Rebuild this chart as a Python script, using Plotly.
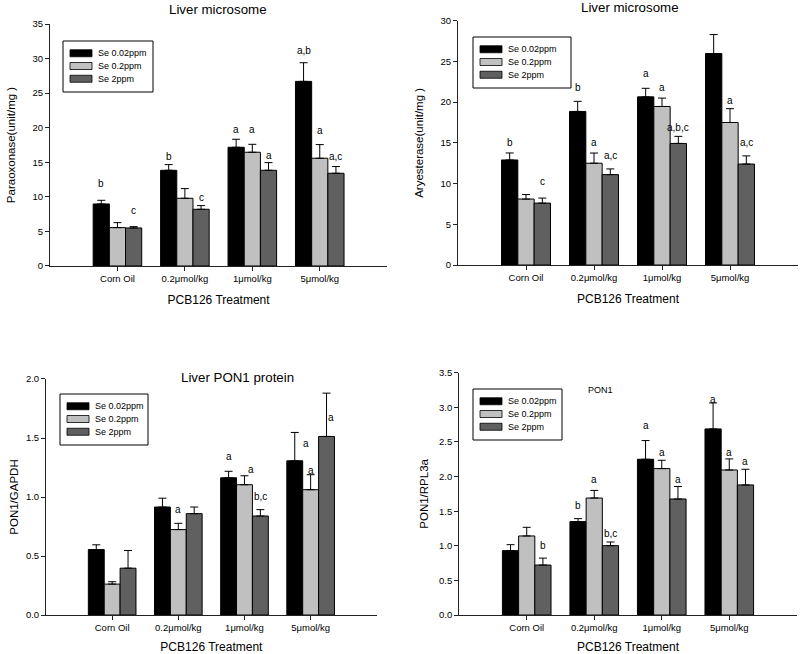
import plotly.graph_objects as go

categories = ["Corn Oil", "0.2μmol/kg", "1μmol/kg", "5μmol/kg"]
series_names = ["Se 0.02ppm", "Se 0.2ppm", "Se 2ppm"]

# Panel 1: Paraoxonase (unit/mg)
pon_002 = [8.97, 13.84, 17.17, 26.7]
pon_02 = [5.55, 9.79, 16.45, 15.58]
pon_2 = [5.5, 8.2, 13.84, 13.41]
pon_002_err = [0.53, 0.82, 1.16, 2.7]
pon_02_err = [0.72, 1.40, 1.15, 1.98]
pon_2_err = [0.19, 0.53, 1.11, 0.97]

# Panel 2: Aryesterase (unit/mg)
ary_002 = [12.9, 18.86, 20.65, 25.97]
ary_02 = [8.1, 12.5, 19.47, 17.5]
ary_2 = [7.6, 11.1, 14.93, 12.4]
ary_002_err = [0.86, 1.24, 1.05, 2.33]
ary_02_err = [0.55, 1.25, 1.03, 1.7]
ary_2_err = [0.62, 0.7, 0.87, 1.0]

# Panel 3: PON1/GAPDH
gap_002 = [0.555, 0.915, 1.163, 1.307]
gap_02 = [0.262, 0.724, 1.104, 1.062]
gap_2 = [0.397, 0.859, 0.839, 1.513]
gap_002_err = [0.04, 0.075, 0.055, 0.24]
gap_02_err = [0.02, 0.053, 0.076, 0.127]
gap_2_err = [0.15, 0.056, 0.054, 0.367]

# Panel 4: PON1/RPL3a
rpl_002 = [0.93, 1.349, 2.25, 2.688]
rpl_02 = [1.142, 1.69, 2.115, 2.095]
rpl_2 = [0.722, 1.002, 1.676, 1.879]
rpl_002_err = [0.086, 0.043, 0.27, 0.375]
rpl_02_err = [0.125, 0.11, 0.12, 0.16]
rpl_2_err = [0.10, 0.053, 0.18, 0.226]

# Significance letters: (category index, series slot, y value, text)
pon_letters = [(0, 0, 11.9, "b"), (0, 2, 8.0, "c"), (1, 0, 15.8, "b"), (1, 2, 9.9, "c"),
               (2, 0, 19.7, "a"), (2, 1, 19.7, "a"), (2, 2, 16.0, "a"),
               (3, 0, 31.2, "a,b"), (3, 1, 19.6, "a"), (3, 2, 15.8, "a,c")]
ary_letters = [(0, 0, 15.1, "b"), (0, 2, 10.2, "c"), (1, 0, 21.8, "b"), (1, 1, 15.1, "a"),
               (1, 2, 13.5, "a,c"), (2, 0, 23.5, "a"), (2, 1, 21.8, "a"), (2, 2, 16.85, "a,b,c"),
               (3, 0, 30.1, "a,b"), (3, 1, 20.2, "a"), (3, 2, 15.1, "a,c")]
gap_letters = [(1, 1, 0.893, "a"), (2, 0, 1.344, "a"), (2, 1.4, 1.231, "a"), (2, 2, 1.008, "b,c"),
               (3, 0.7, 1.456, "a"), (3, 1, 1.228, "a"), (3, 2.3, 1.676, "a")]
rpl_letters = [(0, 2, 1.0, "b"), (1, 0, 1.575, "b"), (1, 1, 1.96, "a"), (1, 2, 1.18, "b,c"),
               (2, 0, 2.736, "a"), (2, 1, 2.35, "a"), (2, 2, 1.96, "a"),
               (3, 0, 3.12, "a"), (3, 1, 2.35, "a"), (3, 2, 2.216, "a")]

colors = ["#000000", "#c0c0c0", "#606060"]
FONT = "Arial, Liberation Sans, sans-serif"

panels = [
    dict(vals=[pon_002, pon_02, pon_2], errs=[pon_002_err, pon_02_err, pon_2_err],
         letters=pon_letters, ytitle="Paraoxonase(unit/mg )", yrange=[0, 35], dtick=5, fmt="d",
         xdom=[0.0625, 0.484], ydom=[0.5933, 0.9633], standoff=14,
         title="Liver microsome", tx=218, ty=9, tsize=13.3,
         leg=(63, 41, 153, 92)),
    dict(vals=[ary_002, ary_02, ary_2], errs=[ary_002_err, ary_02_err, ary_2_err],
         letters=ary_letters, ytitle="Aryesterase(unit/mg )", yrange=[0, 30], dtick=5, fmt="d",
         xdom=[0.5725, 0.9975], ydom=[0.5948, 0.9683], standoff=14,
         title="Liver microsome", tx=630, ty=8, tsize=13.3,
         leg=(473, 37, 571, 88)),
    dict(vals=[gap_002, gap_02, gap_2], errs=[gap_002_err, gap_02_err, gap_2_err],
         letters=gap_letters, ytitle="PON1/GAPDH", yrange=[0, 2.0], dtick=0.5, fmt=".1f",
         xdom=[0.0575, 0.471], ydom=[0.0596, 0.4205], standoff=4,
         title="Liver PON1 protein", tx=237, ty=377, tsize=13.3,
         leg=(60, 394, 148, 445)),
    dict(vals=[rpl_002, rpl_02, rpl_2], errs=[rpl_002_err, rpl_02_err, rpl_2_err],
         letters=rpl_letters, ytitle="PON1/RPL3a", yrange=[0, 3.5], dtick=0.5, fmt=".1f",
         xdom=[0.574, 0.996], ydom=[0.0596, 0.4301], standoff=8,
         title="PON1", tx=600, ty=390, tsize=9,
         leg=(473, 389, 562, 440)),
]

W, H = 800, 654
fig = go.Figure()
annotations = []
shapes = []
layout = {}
bar_w = 0.24


def px(x):
    return x / W


def py(y):
    return 1 - y / H


for i, p in enumerate(panels):
    n = i + 1
    xa = "x" if n == 1 else f"x{n}"
    ya = "y" if n == 1 else f"y{n}"
    for s in range(3):
        fig.add_trace(go.Bar(
            x=list(range(len(categories))), y=p["vals"][s], name=series_names[s],
            xaxis=xa, yaxis=ya, showlegend=False,
            marker=dict(color=colors[s], line=dict(color="#000000", width=1)),
            error_y=dict(type="data", symmetric=False, array=p["errs"][s],
                         arrayminus=[0] * len(categories), color="#000000",
                         thickness=1, width=4),
        ))
    xkey = "xaxis" if n == 1 else f"xaxis{n}"
    ykey = "yaxis" if n == 1 else f"yaxis{n}"
    layout[xkey] = dict(
        domain=p["xdom"], anchor=ya, range=[-1, 4], tickmode="array",
        tickvals=list(range(len(categories))), ticktext=categories,
        showline=True, linecolor="#222222", linewidth=1, ticks="outside", ticklen=4,
        tickcolor="#222222", showgrid=False, zeroline=False, automargin=False,
        tickfont=dict(size=9.5, family=FONT, color="#000000"),
        title=dict(text="PCB126 Treatment", standoff=12,
                   font=dict(size=12, family=FONT, color="#000000")),
    )
    layout[ykey] = dict(
        domain=p["ydom"], anchor=xa, range=p["yrange"], dtick=p["dtick"], tick0=0,
        tickformat=p["fmt"], showline=True, linecolor="#222222", linewidth=1,
        ticks="outside", ticklen=4, tickcolor="#222222", showgrid=False, zeroline=False,
        automargin=False, tickfont=dict(size=9.5, family=FONT, color="#000000"),
        title=dict(text=p["ytitle"], standoff=p["standoff"],
                   font=dict(size=11.5, family=FONT, color="#000000")),
    )
    # panel title
    annotations.append(dict(
        text=p["title"], x=px(p["tx"]), y=py(p["ty"]), xref="paper", yref="paper",
        xanchor="center", yanchor="middle", showarrow=False,
        font=dict(size=p["tsize"], family=FONT, color="#000000"),
    ))
    # legend box drawn in paper space
    lx0, ly0, lx1, ly1 = p["leg"]
    shapes.append(dict(type="rect", xref="paper", yref="paper",
                       x0=px(lx0), x1=px(lx1), y0=py(ly1), y1=py(ly0),
                       line=dict(color="#000000", width=1), fillcolor="#ffffff", layer="above"))
    row_h = (ly1 - ly0) / 4.0
    for s in range(3):
        cy = ly0 + row_h * (s + 1) - 0.5
        shapes.append(dict(type="rect", xref="paper", yref="paper",
                           x0=px(lx0 + 7), x1=px(lx0 + 29), y0=py(cy + 3.5), y1=py(cy - 3.5),
                           line=dict(color="#000000", width=0.8), fillcolor=colors[s],
                           layer="above"))
        annotations.append(dict(
            text=series_names[s], x=px(lx0 + 33), y=py(cy), xref="paper", yref="paper",
            xanchor="left", yanchor="middle", showarrow=False,
            font=dict(size=9, family=FONT, color="#000000"),
        ))
    # significance letters
    for (c, s, yv, txt) in p["letters"]:
        annotations.append(dict(
            text=txt, x=c + (s - 1) * bar_w, y=yv, xref=xa, yref=ya,
            xanchor="center", yanchor="middle", showarrow=False,
            font=dict(size=10, family=FONT, color="#000000"),
        ))

fig.update_layout(
    width=W, height=H, margin=dict(l=0, r=0, t=0, b=0),
    paper_bgcolor="#ffffff", plot_bgcolor="#ffffff",
    barmode="group", bargap=0.28, bargroupgap=0,
    showlegend=False, annotations=annotations, shapes=shapes,
    font=dict(family=FONT, color="#000000"),
    **layout,
)

fig.write_html("out.html", config={"displayModeBar": False},
               post_script="document.body.style.margin='0';")
